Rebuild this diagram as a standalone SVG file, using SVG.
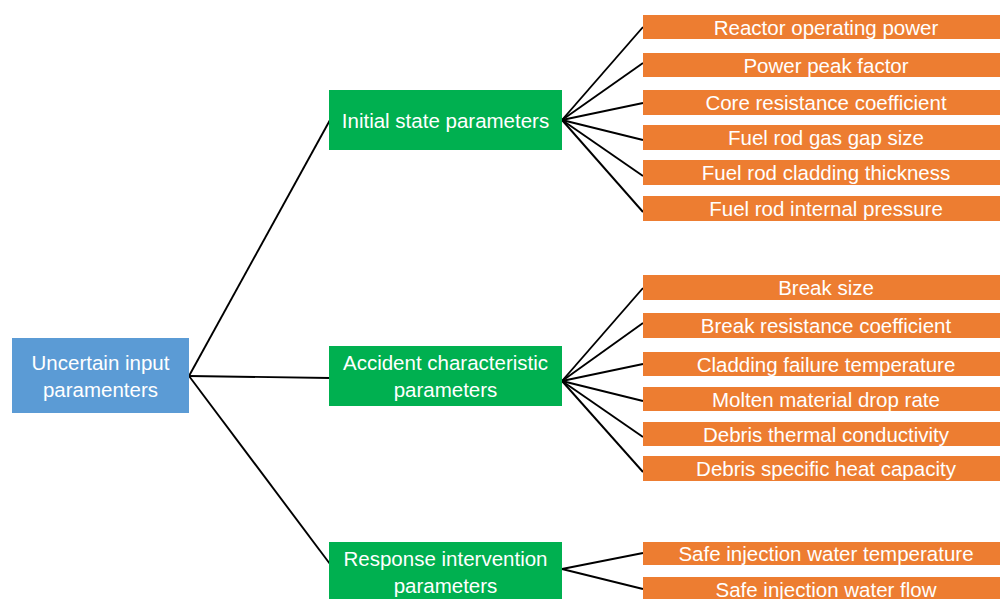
<svg xmlns="http://www.w3.org/2000/svg" width="1000" height="599" viewBox="0 0 1000 599">
  <style>
    .blue { fill: #5B9BD5; }
    .green { fill: #00B050; }
    .orange { fill: #ED7D31; }
    text { font-family: "Liberation Sans", Arial, sans-serif; font-size: 20.5px; fill: #FFFFFF; text-anchor: middle; dominant-baseline: central; }
    .conn line { stroke: #000000; stroke-width: 1.9; }
  </style>
  <rect width="1000" height="599" fill="#FFFFFF"/>
  <g id="connectors" class="conn">
    <line x1="189" y1="376" x2="330" y2="120"/>
    <line x1="189" y1="376" x2="330" y2="378"/>
    <line x1="189" y1="376" x2="330" y2="564"/>
    <line x1="562" y1="120" x2="643" y2="27"/>
    <line x1="562" y1="120" x2="643" y2="63"/>
    <line x1="562" y1="120" x2="643" y2="103"/>
    <line x1="562" y1="120" x2="643" y2="140"/>
    <line x1="562" y1="120" x2="643" y2="176"/>
    <line x1="562" y1="120" x2="643" y2="212"/>
    <line x1="562" y1="381" x2="643" y2="288"/>
    <line x1="562" y1="381" x2="643" y2="323"/>
    <line x1="562" y1="381" x2="643" y2="364"/>
    <line x1="562" y1="381" x2="643" y2="401"/>
    <line x1="562" y1="381" x2="643" y2="437"/>
    <line x1="562" y1="381" x2="643" y2="472"/>
    <line x1="562" y1="569" x2="643" y2="553"/>
    <line x1="562" y1="569" x2="643" y2="589"/>
  </g>
  <g id="root">
    <rect class="blue" x="12" y="338" width="177" height="75"/>
    <text x="100.5" y="362">Uncertain input</text>
    <text x="100.5" y="389">paramenters</text>
  </g>
  <g id="initial">
    <rect class="green" x="329" y="90" width="233" height="60"/>
    <text x="445.5" y="120">Initial state parameters</text>
  </g>
  <g id="accident">
    <rect class="green" x="329" y="346" width="233" height="60"/>
    <text x="445.5" y="362">Accident characteristic</text>
    <text x="445.5" y="389">parameters</text>
  </g>
  <g id="response">
    <rect class="green" x="329" y="542" width="233" height="62"/>
    <text x="445.5" y="558">Response intervention</text>
    <text x="445.5" y="585">parameters</text>
  </g>
  <g id="i1"><rect class="orange" x="643" y="15" width="357" height="24"/><text x="826" y="27">Reactor operating power</text></g>
  <g id="i2"><rect class="orange" x="643" y="53" width="357" height="24"/><text x="826" y="65">Power peak factor</text></g>
  <g id="i3"><rect class="orange" x="643" y="90" width="357" height="25"/><text x="826" y="102.5">Core resistance coefficient</text></g>
  <g id="i4"><rect class="orange" x="643" y="125" width="357" height="25"/><text x="826" y="137.5">Fuel rod gas gap size</text></g>
  <g id="i5"><rect class="orange" x="643" y="160" width="357" height="25"/><text x="826" y="172.5">Fuel rod cladding thickness</text></g>
  <g id="i6"><rect class="orange" x="643" y="196" width="357" height="25"/><text x="826" y="208.5">Fuel rod internal pressure</text></g>
  <g id="a1"><rect class="orange" x="643" y="275" width="357" height="25"/><text x="826" y="287.5">Break size</text></g>
  <g id="a2"><rect class="orange" x="643" y="313" width="357" height="25"/><text x="826" y="325.5">Break resistance coefficient</text></g>
  <g id="a3"><rect class="orange" x="643" y="352" width="357" height="24"/><text x="826" y="364">Cladding failure temperature</text></g>
  <g id="a4"><rect class="orange" x="643" y="387" width="357" height="24"/><text x="826" y="399">Molten material drop rate</text></g>
  <g id="a5"><rect class="orange" x="643" y="422" width="357" height="24"/><text x="826" y="434">Debris thermal conductivity</text></g>
  <g id="a6"><rect class="orange" x="643" y="456" width="357" height="25"/><text x="826" y="468.5">Debris specific heat capacity</text></g>
  <g id="r1"><rect class="orange" x="643" y="542" width="357" height="23"/><text x="826" y="553.5">Safe injection water temperature</text></g>
  <g id="r2"><rect class="orange" x="643" y="577" width="357" height="27"/><text x="826" y="589">Safe injection water flow</text></g>
</svg>
